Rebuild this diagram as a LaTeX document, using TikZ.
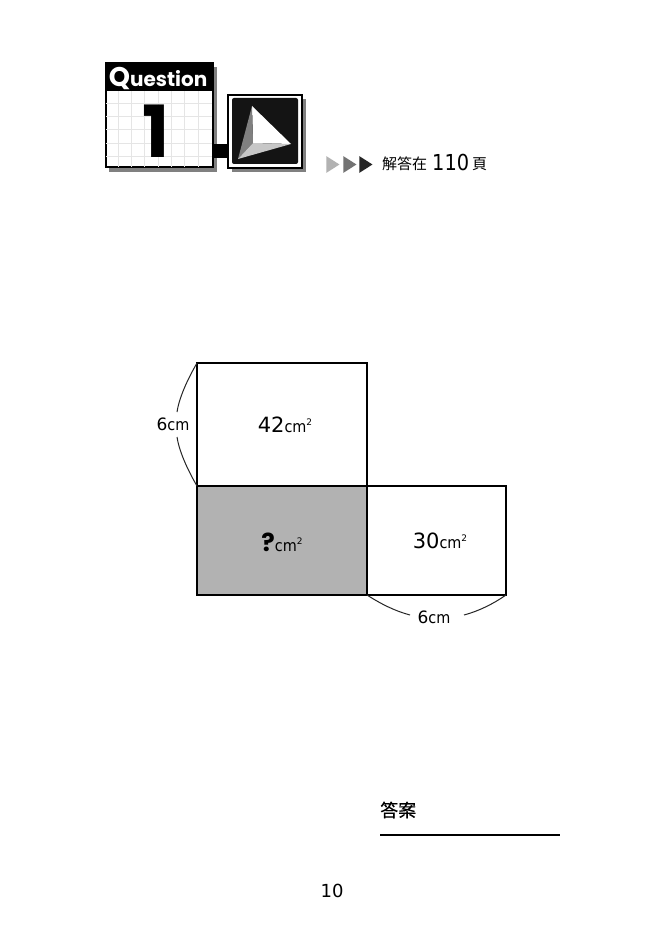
\documentclass[tikz,border=0pt]{standalone}
\usepackage{fontspec}
\setmainfont{DejaVu Sans}
\newfontfamily\headfont{Poppins}
\newfontfamily\cjkfont{Noto Sans CJK TC}
\usetikzlibrary{shapes.geometric}
\newlength{\du}
\setlength{\du}{1pt}
\definecolor{shadowgray}{rgb}{0.50, 0.50, 0.50}
\definecolor{gridgray}{rgb}{0.90, 0.90, 0.90}
\definecolor{facegray}{rgb}{0.70, 0.70, 0.70}
\tikzset{
  faceline/.style={draw=black, line width=2.8\du},
  sizeline/.style={draw=black!85, line width=1\du},
  arealabel/.style={font=\fontsize{21\du}{21\du}\selectfont, inner sep=0pt},
  sizelabel/.style={font=\fontsize{17\du}{17\du}\selectfont, inner sep=0pt},
  playmark/.style={isosceles triangle, isosceles triangle apex angle=65, minimum height=13\du, minimum width=15\du, inner sep=0pt, outer sep=0pt},
}
\newcommand{\cmunit}{{\fontsize{16\du}{16\du}\selectfont\addfontfeature{FakeStretch=0.9}cm}}
\newcommand{\cmsq}{\cmunit\raisebox{0.6ex}{\fontsize{9\du}{9\du}\selectfont 2}}
\begin{document}
\begin{tikzpicture}[x=1\du, y=-1\du]
\useasboundingbox (0,0) rectangle (663,941);
\fill[white] (0,0) rectangle (663,941);
% header
\fill[shadowgray] (109,67) rectangle (217,172);
\fill[shadowgray] (232,99) rectangle (306,172);
\node[draw=black, line width=2\du, fill=white, minimum width=107\du, minimum height=104\du, inner sep=0pt, outer sep=0pt] (qbox) at (159,115.5) {};
\foreach \gx in {118,131.3,144.6,158,171.3,184.6,198} {
  \draw[gridgray, line width=0.6\du] (\gx,91) -- (\gx,167);
}
\foreach \gy in {103,116.3,129.6,143,156.3} {
  \draw[gridgray, line width=0.6\du] (106,\gy) -- (212,\gy);
}
\fill[black] (qbox.north west) rectangle (213,91);
\node[white, inner sep=0pt, font=\headfont\bfseries\fontsize{20\du}{20\du}\selectfont] (qtitle) at (158,79) {{\fontsize{27\du}{27\du}\selectfont Q}uestion};
\node[black, inner sep=0pt, font=\headfont\bfseries\fontsize{72\du}{72\du}\selectfont] (qnum) at (156,131) {1};
\node[draw=black, line width=2\du, fill=white, minimum width=74\du, minimum height=73\du, inner sep=0pt, outer sep=0pt] (ibox) at (265,131.5) {};
\fill[black!92] (232,98) [rounded corners=2\du] rectangle (298,164);
\draw[black, line width=14\du] (qbox.east |- 0,151) -- (ibox.west |- 0,151);
% solid in the icon
\coordinate (apex) at (252,106);
\coordinate (tip) at (291,144);
\coordinate (foot) at (238,159);
\coordinate (mid) at (253,143);
\fill[white] (apex) -- (tip) -- (mid) -- cycle;
\fill[gray] (apex) -- (mid) -- (foot) -- cycle;
\fill[black!22] (foot) -- (mid) -- (tip) -- cycle;
% arrows and reference
\node[playmark, fill=black!30] (pa) at (331,164.5) {};
\node[playmark, fill=black!55] (pb) at (348,164.5) {};
\node[playmark, fill=black!85] (pc) at (364,164.5) {};
\node[anchor=west, inner sep=0pt, font=\cjkfont\fontsize{15\du}{15\du}\selectfont] (ref) at (382,164) {解答在};
\node[anchor=west, inner sep=0pt, font=\fontsize{22\du}{22\du}\selectfont\addfontfeature{FakeStretch=0.88}] (refnum) at (432,162) {110};
\node[anchor=west, inner sep=0pt, font=\cjkfont\fontsize{15\du}{15\du}\selectfont] (refpage) at (472,164) {頁};
% net
\node[faceline, fill=white, minimum width=170\du, minimum height=123\du, inner sep=0pt, outer sep=0pt] (topface) at (282,424.5) {};
\node[faceline, fill=facegray, minimum width=170\du, minimum height=109\du, inner sep=0pt, outer sep=0pt] (midface) at (282,540.5) {};
\node[faceline, fill=white, minimum width=139\du, minimum height=109\du, inner sep=0pt, outer sep=0pt] (sideface) at (436.5,540.5) {};
\node[arealabel] (toplabel) at (285,425) {42\cmsq};
\node[arealabel] (midlabel) at (282,542) {{\headfont\bfseries\fontsize{25\du}{25\du}\selectfont ?}\cmsq};
\node[arealabel] (sidelabel) at (440,541) {30\cmsq};
\node[sizelabel] (leftsize) at (173,424) {6\cmunit};
\node[sizelabel] (lowsize) at (434,617) {6\cmunit};
\coordinate (leftup) at (177,412);
\coordinate (leftdown) at (177,437);
\coordinate (lowleft) at (410,615);
\coordinate (lowright) at (464,615);
\draw[sizeline] (topface.north west) .. controls (186,382) and (179,399) .. (leftup);
\draw[sizeline] (leftdown) .. controls (179,450) and (186,467) .. (topface.south west);
\draw[sizeline] (sideface.south west) .. controls (381,604) and (395,611) .. (lowleft);
\draw[sizeline] (lowright) .. controls (479,611) and (493,604) .. (sideface.south east);
% answer
\node[anchor=west, inner sep=0pt, font=\cjkfont\fontsize{18\du}{18\du}\selectfont\addfontfeature{FakeBold=0.4}] (answer) at (380,810) {答案};
\coordinate (answerstart) at (380,835);
\coordinate (answerend) at (560,835);
\draw[black, line width=1.6\du] (answerstart) -- (answerend);
\node[inner sep=0pt, font=\fontsize{18\du}{18\du}\selectfont] (pageno) at (332,891) {10};
\end{tikzpicture}
\end{document}
